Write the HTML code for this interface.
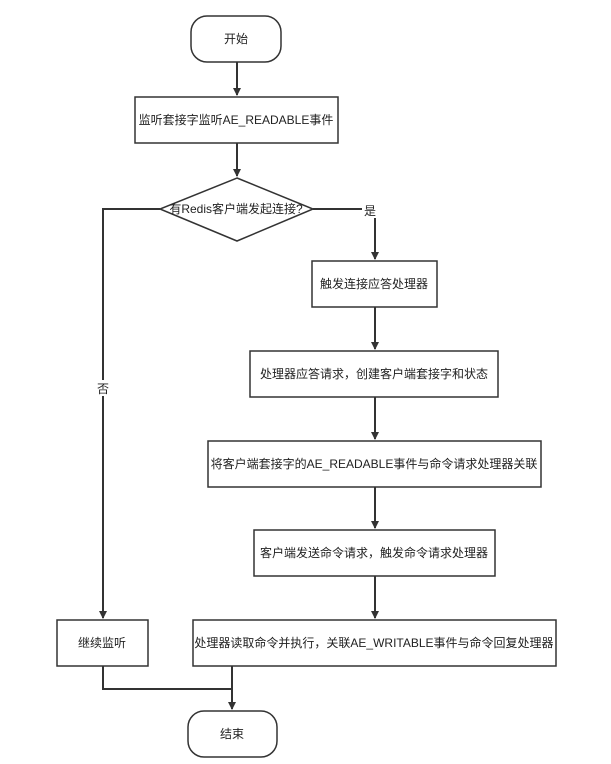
<html><head><style>body{margin:0;background:#fff}svg text{font-family:"Liberation Sans","Noto Sans CJK SC",sans-serif;font-size:12px;fill:#222}</style></head><body>
<svg width="611" height="764" viewBox="0 0 611 764" xmlns="http://www.w3.org/2000/svg">
<defs><marker id="a" markerWidth="8" markerHeight="8" refX="7" refY="4" orient="auto" markerUnits="userSpaceOnUse"><path d="M0,0 L8,4 L0,8 Z" fill="#333"/></marker></defs>
<g fill="#fff" stroke="#333" stroke-width="1.5">
<rect x="191" y="16" width="90" height="46" rx="16"/>
<rect x="135" y="97" width="203" height="46"/>
<polygon points="237,178 313,209 237,241 160,209"/>
<rect x="312" y="261" width="125" height="46"/>
<rect x="250" y="351" width="248" height="46"/>
<rect x="208" y="441" width="333" height="46"/>
<rect x="254" y="530" width="241" height="46"/>
<rect x="57" y="620" width="91" height="46"/>
<rect x="193" y="620" width="363" height="46"/>
<rect x="188" y="711" width="89" height="46" rx="16"/>
</g>
<g stroke="#333" stroke-width="2" fill="none">
<path d="M237 62V95" marker-end="url(#a)"/>
<path d="M237 143V176" marker-end="url(#a)"/>
<path d="M313 209H375V259" marker-end="url(#a)"/>
<path d="M160 209H103V618" marker-end="url(#a)"/>
<path d="M375 307V349" marker-end="url(#a)"/>
<path d="M375 397V439" marker-end="url(#a)"/>
<path d="M375 487V528" marker-end="url(#a)"/>
<path d="M375 576V618" marker-end="url(#a)"/>
<path d="M103 666V689H232"/>
<path d="M232 666V709" marker-end="url(#a)"/>
</g>
<rect x="362" y="202" width="16" height="16" fill="#fff"/>
<text x="370" y="215" text-anchor="middle">是</text>
<rect x="96" y="380" width="14" height="16" fill="#fff"/>
<text x="103" y="393" text-anchor="middle">否</text>
<g text-anchor="middle">
<text x="236" y="43">开始</text>
<text x="236" y="124">监听套接字监听AE_READABLE事件</text>
<text x="236" y="213">有Redis客户端发起连接?</text>
<text x="374" y="288">触发连接应答处理器</text>
<text x="374" y="378">处理器应答请求，创建客户端套接字和状态</text>
<text x="374" y="468">将客户端套接字的AE_READABLE事件与命令请求处理器关联</text>
<text x="374" y="557">客户端发送命令请求，触发命令请求处理器</text>
<text x="102" y="647">继续监听</text>
<text x="374" y="647">处理器读取命令并执行，关联AE_WRITABLE事件与命令回复处理器</text>
<text x="232" y="738">结束</text>
</g>
</svg></body></html>
